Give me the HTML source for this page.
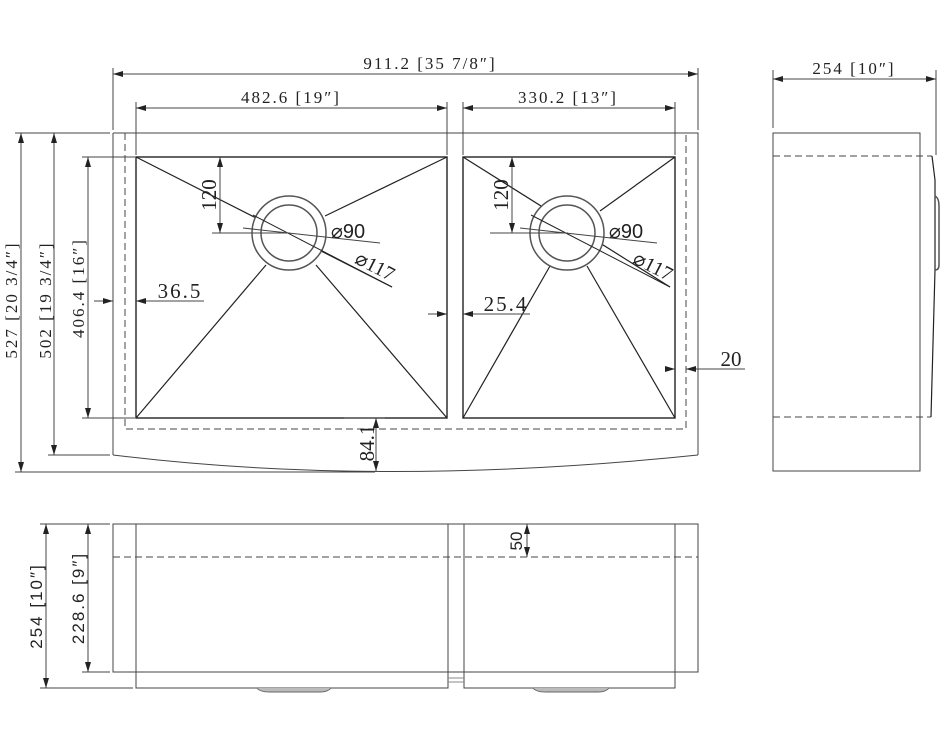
<!DOCTYPE html>
<html><head><meta charset="utf-8"><style>
html,body{margin:0;padding:0;background:#fff;}
svg{display:block}
text{font-family:"Liberation Serif","DejaVu Serif",serif;fill:#222;}
.s{font-family:"Liberation Sans",sans-serif;}
.w{letter-spacing:2px}
</style></head><body>
<svg width="950" height="750" viewBox="0 0 950 750" xmlns="http://www.w3.org/2000/svg">
<defs>
<marker id="a" viewBox="0 0 10 6" refX="10" refY="3" markerWidth="10" markerHeight="6" orient="auto-start-reverse" markerUnits="userSpaceOnUse"><path d="M0,0 L10,3 L0,6z" fill="#222"/></marker>
</defs>
<g stroke="#444" stroke-width="1" fill="none">
<path d="M113,133 H698 V455"/>
<path d="M113,133 V455"/>
<path d="M113,455 Q380,488 698,455"/>
<path d="M125,133 V429 H686 V133" stroke-dasharray="7,4"/>
<rect x="136" y="157" width="311" height="261" stroke="#222" stroke-width="1.4"/>
<rect x="463" y="157" width="212" height="261" stroke="#222" stroke-width="1.4"/>
<g stroke="#222" stroke-width="1.2">
<line x1="136" y1="157" x2="392" y2="287"/>
<line x1="447" y1="157" x2="325" y2="216"/>
<line x1="136" y1="418" x2="266" y2="265"/>
<line x1="447" y1="418" x2="316" y2="265"/>
<line x1="463" y1="157" x2="670" y2="287"/>
<line x1="675" y1="157" x2="600" y2="211"/>
<line x1="463" y1="418" x2="550" y2="266"/>
<line x1="675" y1="418" x2="587" y2="266"/>
</g>
<circle cx="289" cy="233" r="37" stroke="#555" stroke-width="1.5" fill="#fff"/>
<circle cx="289" cy="233" r="28" stroke="#555" stroke-width="1.5"/>
<circle cx="567" cy="233" r="37" stroke="#555" stroke-width="1.5" fill="#fff"/>
<circle cx="567" cy="233" r="28" stroke="#555" stroke-width="1.5"/>
<line x1="253" y1="215" x2="392" y2="287" stroke="#222"/>
<line x1="531" y1="215" x2="670" y2="287" stroke="#222"/>
<line x1="243" y1="228" x2="380" y2="243"/>
<line x1="520" y1="228" x2="657" y2="243"/>
<line x1="212" y1="233" x2="290" y2="233"/>
<line x1="490" y1="233" x2="568" y2="233"/>
<line x1="220" y1="157" x2="220" y2="233" marker-start="url(#a)" marker-end="url(#a)"/>
<line x1="512" y1="157" x2="512" y2="233" marker-start="url(#a)" marker-end="url(#a)"/>
<line x1="113" y1="68" x2="113" y2="130"/><line x1="698" y1="68" x2="698" y2="130"/>
<line x1="113" y1="74" x2="698" y2="74" marker-start="url(#a)" marker-end="url(#a)"/>
<line x1="136" y1="102" x2="136" y2="155"/><line x1="447" y1="102" x2="447" y2="155"/>
<line x1="463" y1="102" x2="463" y2="155"/><line x1="675" y1="102" x2="675" y2="155"/>
<line x1="136" y1="108" x2="447" y2="108" marker-start="url(#a)" marker-end="url(#a)"/>
<line x1="463" y1="108" x2="675" y2="108" marker-start="url(#a)" marker-end="url(#a)"/>
<line x1="15" y1="133" x2="110" y2="133"/><line x1="15" y1="472" x2="375" y2="472"/>
<line x1="48" y1="455" x2="110" y2="455"/>
<line x1="82" y1="157" x2="135" y2="157"/><line x1="82" y1="418" x2="135" y2="418"/>
<line x1="21" y1="133" x2="21" y2="472" marker-start="url(#a)" marker-end="url(#a)"/>
<line x1="54" y1="133" x2="54" y2="455" marker-start="url(#a)" marker-end="url(#a)"/>
<line x1="88" y1="157" x2="88" y2="418" marker-start="url(#a)" marker-end="url(#a)"/>
<line x1="94" y1="301" x2="113" y2="301" marker-end="url(#a)"/>
<line x1="204" y1="301" x2="136" y2="301" marker-end="url(#a)"/>
<line x1="376" y1="418" x2="376" y2="471" marker-start="url(#a)" marker-end="url(#a)"/>
<line x1="344" y1="418" x2="385" y2="418"/>
<line x1="428" y1="314" x2="447" y2="314" marker-end="url(#a)"/>
<line x1="530" y1="314" x2="463" y2="314" marker-end="url(#a)"/>
<line x1="666" y1="369" x2="675" y2="369" marker-end="url(#a)"/>
<line x1="745" y1="369" x2="686" y2="369" marker-end="url(#a)"/>
<rect x="773" y="133" width="147" height="338"/>
<path d="M773,156 H932 M773,417 H931" stroke-dasharray="7,4"/>
<path d="M932,156 L935,180 L935,270 L931,417" stroke="#222" stroke-width="1.2"/>
<path d="M935,196 Q939,198 939,206 V265 Q939,270 935,270" stroke="#555" stroke-width="1.5"/>
<line x1="773" y1="70" x2="773" y2="128"/><line x1="936" y1="70" x2="936" y2="155"/>
<line x1="773" y1="79" x2="936" y2="79" marker-start="url(#a)" marker-end="url(#a)"/>
<rect x="113" y="524" width="585" height="148"/>
<path d="M136,524 V688 H448 V524 M464,524 V688 H675 V524"/>
<path d="M448,678 H464 M448,682 H464" stroke="#888"/>
<line x1="113" y1="557" x2="698" y2="557" stroke-dasharray="7,4"/>
<path d="M257,688 Q260,692 270,692 H320 Q328,692 331,688" stroke="#666" fill="#bbb"/>
<path d="M533,688 Q536,692 546,692 H598 Q606,692 609,688" stroke="#666" fill="#bbb"/>
<line x1="40" y1="524" x2="110" y2="524"/><line x1="40" y1="688" x2="133" y2="688"/>
<line x1="82" y1="672" x2="110" y2="672"/>
<line x1="46" y1="524" x2="46" y2="688" marker-start="url(#a)" marker-end="url(#a)"/>
<line x1="88" y1="524" x2="88" y2="672" marker-start="url(#a)" marker-end="url(#a)"/>
<line x1="527" y1="524" x2="527" y2="557" marker-start="url(#a)" marker-end="url(#a)"/>
</g>
<g font-size="17">
<text x="430" y="69" text-anchor="middle" class="w">911.2 [35 7/8″]</text>
<text x="291" y="103" text-anchor="middle" class="w">482.6 [19″]</text>
<text x="568" y="103" text-anchor="middle" class="w">330.2 [13″]</text>
<text x="854" y="74" text-anchor="middle" class="w">254 [10″]</text>
<text x="180" y="298" font-size="21" text-anchor="middle" class="w">36.5</text>
<text x="506" y="311" font-size="21" text-anchor="middle" class="w">25.4</text>
<text x="731" y="366" font-size="21" text-anchor="middle">20</text>
<text x="348" y="238" font-size="20" text-anchor="middle" class="s">⌀90</text>
<text x="626" y="238" font-size="20" text-anchor="middle" class="s">⌀90</text>
<text transform="translate(372,272) rotate(27)" font-size="20" text-anchor="middle">⌀117</text>
<text transform="translate(650,272) rotate(27)" font-size="20" text-anchor="middle">⌀117</text>
<text transform="translate(216,195) rotate(-90)" font-size="21" text-anchor="middle">120</text>
<text transform="translate(508,195) rotate(-90)" font-size="21" text-anchor="middle">120</text>
<text transform="translate(374,443) rotate(-90)" font-size="21" text-anchor="middle">84.1</text>
<text transform="translate(17,300) rotate(-90)" text-anchor="middle" class="w">527 [20 3/4″]</text>
<text transform="translate(51,300) rotate(-90)" text-anchor="middle" class="w">502 [19 3/4″]</text>
<text transform="translate(84,288) rotate(-90)" text-anchor="middle" class="w">406.4 [16″]</text>
<text transform="translate(42,606) rotate(-90)" text-anchor="middle" class="s w">254 [10″]</text>
<text transform="translate(84,598) rotate(-90)" text-anchor="middle" class="s w">228.6 [9″]</text>
<text transform="translate(522,541) rotate(-90)" text-anchor="middle" class="s">50</text>
</g>
</svg>
</body></html>
